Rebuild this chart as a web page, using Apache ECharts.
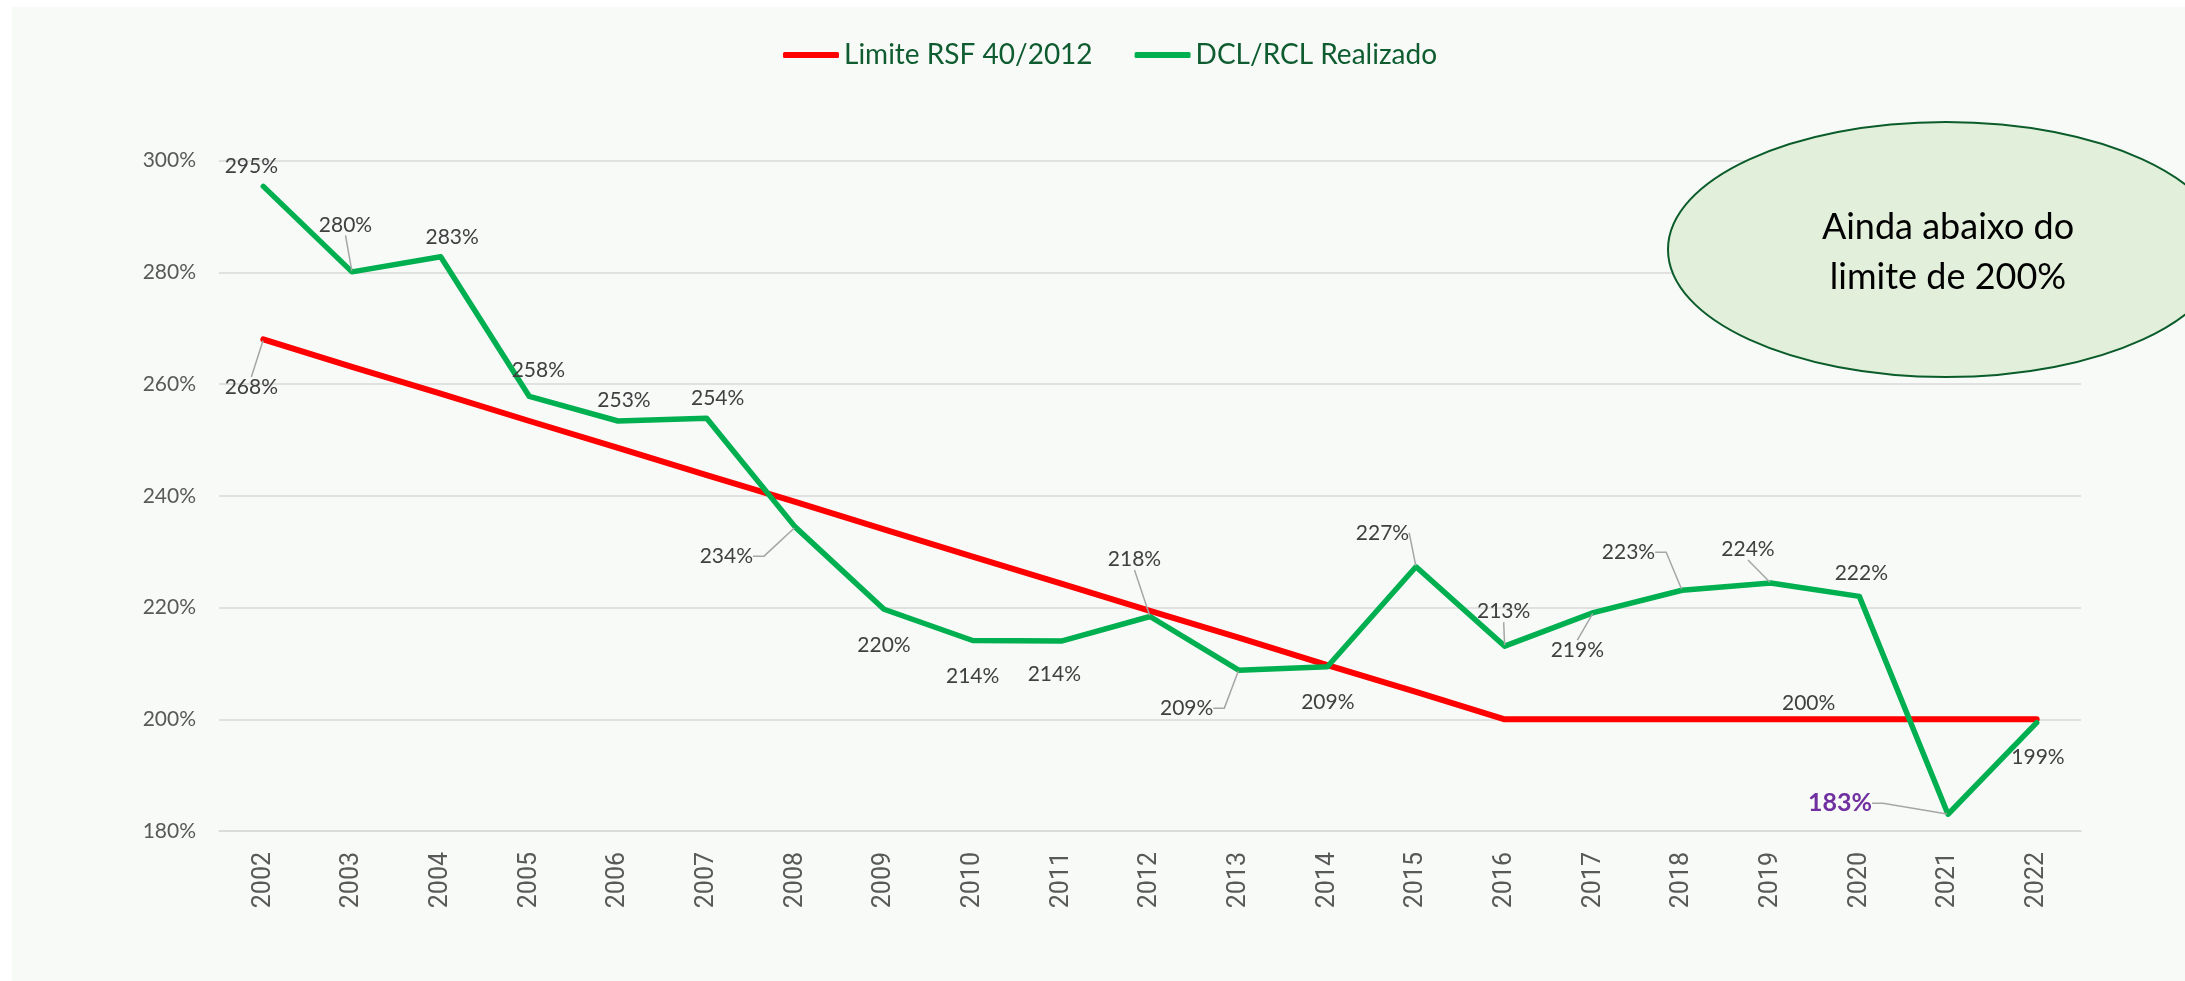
<!DOCTYPE html>
<html>
<head>
<meta charset="utf-8">
<script src="https://cdn.jsdelivr.net/npm/echarts@6/dist/echarts.min.js"></script>
<style>
  html, body { margin: 0; padding: 0; background: #ffffff; }
  #chart { width: 2185px; height: 981px; }
</style>
</head>
<body>
<div id="chart"></div>
<script>
// ---- data ----
const years = ['2002','2003','2004','2005','2006','2007','2008','2009','2010','2011','2012',
               '2013','2014','2015','2016','2017','2018','2019','2020','2021','2022'];
const limiteRSF = [268, 263.1, 258.3, 253.4, 248.6, 243.7, 238.9, 234.0, 229.1, 224.3, 219.4,
                   214.6, 209.7, 204.9, 200, 200, 200, 200, 200, 200, 200];
const dclRcl = [295.4, 280.1, 282.8, 257.8, 253.4, 253.9, 234.4, 219.7, 214.1, 214.0, 218.4,
                208.8, 209.4, 227.3, 213.1, 219.1, 223.1, 224.4, 222.0, 183.0, 199.4];
const yTicks = [180, 200, 220, 240, 260, 280, 300];
const seriesNames = ['Limite RSF 40/2012', 'DCL/RCL Realizado'];
const noteText = 'Ainda abaixo do\nlimite de 200%';

// ---- label placement (styles) ----
const greenOffsets = [[-12,-20],[-6.5,-47],[11.5,-20],[9,-26],[6,-21],[11,-20],[-69,29],[0,36],
  [0,35.5],[-7,33],[-15.5,-57],[-52,38],[0.5,35],[-33.5,-34],[-1,-34.5],[-16,38],[-53.5,-38],
  [-22.7,-33.5],[2,-23.5],[-108,-11],[1.3,35]];
// 0 = no leader, 1 = straight leader, 2 = elbow leader
const greenLeader = [0,1,0,0,0,0,2,0,0,0,1,2,0,1,1,1,2,1,0,2,0];
const redLabels = {0: [-12, 48, true], 17: [38, -16, false]};

const labelFont = 'Lato';
const labelColor = '#404040';
const leaderStyle = { color: '#a6a6a6', width: 1.5 };

const greenData = dclRcl.map((v, i) => ({
  value: v,
  label: i === 19 ? { color: '#7030a0', fontWeight: 'bold', fontSize: 25 } : {},
  labelLine: { show: greenLeader[i] > 0, length2: greenLeader[i] === 2 ? 11 : 0, lineStyle: leaderStyle }
}));
const redData = limiteRSF.map((v, i) => ({
  value: v,
  label: { show: redLabels[i] !== undefined },
  labelLine: { show: !!(redLabels[i] && redLabels[i][2]), length2: 0, lineStyle: leaderStyle }
}));

const chart = echarts.init(document.getElementById('chart'), null, { renderer: 'canvas' });
chart.setOption({
  animation: false,
  backgroundColor: '#ffffff',
  textStyle: { fontFamily: labelFont },
  legend: {
    left: 778, top: 34,
    itemWidth: 56, itemHeight: 6, itemGap: 42,
    icon: 'roundRect',
    textStyle: { fontFamily: labelFont, fontSize: 28, color: '#0e5c2f', lineHeight: 32 },
    data: seriesNames
  },
  grid: { left: 219, right: 104, top: 160.7, bottom: 150 },
  xAxis: {
    type: 'category',
    data: years,
    boundaryGap: true,
    axisLine: { lineStyle: { color: '#d9d9d9', width: 1.5 } },
    axisTick: { show: false },
    axisLabel: { rotate: 90, margin: 21, fontFamily: 'Roboto', fontSize: 25, color: '#595959' }
  },
  yAxis: {
    type: 'value',
    min: yTicks[0], max: yTicks[yTicks.length - 1], interval: 20,
    axisLine: { show: false },
    axisTick: { show: false },
    splitLine: { lineStyle: { color: '#d9d9d9', width: 1.5 } },
    axisLabel: { margin: 23, fontFamily: labelFont, fontSize: 21, color: '#595959', formatter: '{value}%' }
  },
  series: [
    {
      name: seriesNames[0],
      type: 'line',
      data: redData,
      color: '#ff0000',
      symbol: 'circle', symbolSize: 2, showSymbol: true,
      lineStyle: { width: 6, color: '#ff0000', join: 'round', cap: 'round' },
      label: { show: false, position: 'inside', fontFamily: labelFont, fontSize: 21, color: labelColor,
               formatter: p => Math.round(p.value) + '%' },
      labelLayout: p => {
        const o = redLabels[p.dataIndex] || [0, 0];
        return { x: p.rect.x + p.rect.width / 2 + o[0], y: p.rect.y + p.rect.height / 2 + o[1],
                 align: 'center', verticalAlign: 'middle' };
      },
      z: 2
    },
    {
      name: seriesNames[1],
      type: 'line',
      data: greenData,
      color: '#00b050',
      symbol: 'circle', symbolSize: 2, showSymbol: true,
      lineStyle: { width: 5.5, color: '#00b050', join: 'round', cap: 'round' },
      label: { show: true, position: 'inside', fontFamily: labelFont, fontSize: 21, color: labelColor,
               formatter: p => Math.round(p.value) + '%' },
      labelLayout: p => {
        const o = greenOffsets[p.dataIndex];
        return { x: p.rect.x + p.rect.width / 2 + o[0], y: p.rect.y + p.rect.height / 2 + o[1],
                 align: 'center', verticalAlign: 'middle' };
      },
      z: 3
    }
  ],
  graphic: [
    { type: 'rect', z: -100, silent: true,
      shape: { x: 12, y: 7, width: 2185, height: 981 },
      style: { fill: '#f8faf8' } },
    { type: 'ellipse', z: 100, silent: true,
      shape: { cx: 1946, cy: 249.5, rx: 278, ry: 127.5 },
      style: { fill: '#e2efda', stroke: '#0a5c2a', lineWidth: 2 } },
    { type: 'text', z: 101, silent: true,
      x: 1948, y: 252,
      style: { text: noteText, fontSize: 36, fontFamily: 'Lato', fill: '#000000', align: 'center',
               verticalAlign: 'middle', lineHeight: 50 } }
  ]
});
</script>
</body>
</html>
